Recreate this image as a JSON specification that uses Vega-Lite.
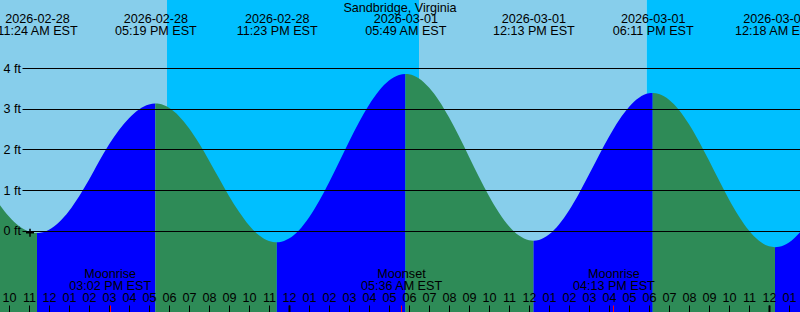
{
  "$schema": "https://vega.github.io/schema/vega-lite/v6.json",
  "width": 800,
  "height": 312,
  "padding": 0,
  "autosize": {"type": "none"},
  "background": "white",
  "config": {
    "view": {"stroke": null},
    "axis": {
      "labelFont": "Liberation Sans",
      "labelFontSize": 12.6,
      "labelColor": "black",
      "tickColor": "black",
      "domain": false,
      "grid": false,
      "labelFlush": false,
      "labelOverlap": false
    }
  },
  "title": {
    "text": "Sandbridge, Virginia",
    "offset": -12,
    "dy": 13,
    "baseline": "alphabetic",
    "font": "Liberation Sans",
    "fontSize": 12.6,
    "fontWeight": "normal",
    "color": "black",
    "anchor": "middle"
  },
  "datasets": {
    "sky": [
      {"start": "2026-02-28T09:33:00Z", "end": "2026-02-28T17:54:00Z", "kind": "day"},
      {"start": "2026-02-28T17:54:00Z", "end": "2026-03-01T06:30:00Z", "kind": "night"},
      {"start": "2026-03-01T06:30:00Z", "end": "2026-03-01T17:53:00Z", "kind": "day"},
      {"start": "2026-03-01T17:53:00Z", "end": "2026-03-02T01:33:00Z", "kind": "night"}
    ],
    "tide": [
      {"time": "2026-02-28T09:33:00Z", "ft": 0.627, "kind": "falling", "seg": 0},
      {"time": "2026-02-28T10:00:00Z", "ft": 0.346, "kind": "falling", "seg": 0},
      {"time": "2026-02-28T10:30:00Z", "ft": 0.111, "kind": "falling", "seg": 0},
      {"time": "2026-02-28T11:00:00Z", "ft": -0.026, "kind": "falling", "seg": 0},
      {"time": "2026-02-28T11:24:00Z", "ft": -0.06, "kind": "falling", "seg": 0},
      {"time": "2026-02-28T11:24:00Z", "ft": -0.06, "kind": "rising", "seg": 1},
      {"time": "2026-02-28T11:30:00Z", "ft": -0.058, "kind": "rising", "seg": 1},
      {"time": "2026-02-28T12:00:00Z", "ft": 0.02, "kind": "rising", "seg": 1},
      {"time": "2026-02-28T12:30:00Z", "ft": 0.204, "kind": "rising", "seg": 1},
      {"time": "2026-02-28T13:00:00Z", "ft": 0.482, "kind": "rising", "seg": 1},
      {"time": "2026-02-28T13:30:00Z", "ft": 0.84, "kind": "rising", "seg": 1},
      {"time": "2026-02-28T14:00:00Z", "ft": 1.25, "kind": "rising", "seg": 1},
      {"time": "2026-02-28T14:30:00Z", "ft": 1.7, "kind": "rising", "seg": 1},
      {"time": "2026-02-28T15:00:00Z", "ft": 2.12, "kind": "rising", "seg": 1},
      {"time": "2026-02-28T15:30:00Z", "ft": 2.48, "kind": "rising", "seg": 1},
      {"time": "2026-02-28T16:00:00Z", "ft": 2.77, "kind": "rising", "seg": 1},
      {"time": "2026-02-28T16:30:00Z", "ft": 2.985, "kind": "rising", "seg": 1},
      {"time": "2026-02-28T17:00:00Z", "ft": 3.107, "kind": "rising", "seg": 1},
      {"time": "2026-02-28T17:19:00Z", "ft": 3.13, "kind": "rising", "seg": 1},
      {"time": "2026-02-28T17:19:00Z", "ft": 3.13, "kind": "falling", "seg": 2},
      {"time": "2026-02-28T17:30:00Z", "ft": 3.122, "kind": "falling", "seg": 2},
      {"time": "2026-02-28T18:00:00Z", "ft": 3.024, "kind": "falling", "seg": 2},
      {"time": "2026-02-28T18:30:00Z", "ft": 2.819, "kind": "falling", "seg": 2},
      {"time": "2026-02-28T19:00:00Z", "ft": 2.521, "kind": "falling", "seg": 2},
      {"time": "2026-02-28T19:30:00Z", "ft": 2.149, "kind": "falling", "seg": 2},
      {"time": "2026-02-28T20:00:00Z", "ft": 1.728, "kind": "falling", "seg": 2},
      {"time": "2026-02-28T20:30:00Z", "ft": 1.287, "kind": "falling", "seg": 2},
      {"time": "2026-02-28T21:00:00Z", "ft": 0.855, "kind": "falling", "seg": 2},
      {"time": "2026-02-28T21:30:00Z", "ft": 0.462, "kind": "falling", "seg": 2},
      {"time": "2026-02-28T22:00:00Z", "ft": 0.131, "kind": "falling", "seg": 2},
      {"time": "2026-02-28T22:30:00Z", "ft": -0.114, "kind": "falling", "seg": 2},
      {"time": "2026-02-28T23:00:00Z", "ft": -0.257, "kind": "falling", "seg": 2},
      {"time": "2026-02-28T23:23:00Z", "ft": -0.29, "kind": "falling", "seg": 2},
      {"time": "2026-02-28T23:23:00Z", "ft": -0.29, "kind": "rising", "seg": 3},
      {"time": "2026-02-28T23:30:00Z", "ft": -0.287, "kind": "rising", "seg": 3},
      {"time": "2026-03-01T00:00:00Z", "ft": -0.197, "kind": "rising", "seg": 3},
      {"time": "2026-03-01T00:30:00Z", "ft": 0.011, "kind": "rising", "seg": 3},
      {"time": "2026-03-01T01:00:00Z", "ft": 0.324, "kind": "rising", "seg": 3},
      {"time": "2026-03-01T01:30:00Z", "ft": 0.722, "kind": "rising", "seg": 3},
      {"time": "2026-03-01T02:00:00Z", "ft": 1.185, "kind": "rising", "seg": 3},
      {"time": "2026-03-01T02:30:00Z", "ft": 1.684, "kind": "rising", "seg": 3},
      {"time": "2026-03-01T03:00:00Z", "ft": 2.188, "kind": "rising", "seg": 3},
      {"time": "2026-03-01T03:30:00Z", "ft": 2.669, "kind": "rising", "seg": 3},
      {"time": "2026-03-01T04:00:00Z", "ft": 3.094, "kind": "rising", "seg": 3},
      {"time": "2026-03-01T04:30:00Z", "ft": 3.444, "kind": "rising", "seg": 3},
      {"time": "2026-03-01T05:00:00Z", "ft": 3.696, "kind": "rising", "seg": 3},
      {"time": "2026-03-01T05:30:00Z", "ft": 3.835, "kind": "rising", "seg": 3},
      {"time": "2026-03-01T05:49:00Z", "ft": 3.86, "kind": "rising", "seg": 3},
      {"time": "2026-03-01T05:49:00Z", "ft": 3.86, "kind": "falling", "seg": 4},
      {"time": "2026-03-01T06:00:00Z", "ft": 3.852, "kind": "falling", "seg": 4},
      {"time": "2026-03-01T06:30:00Z", "ft": 3.746, "kind": "falling", "seg": 4},
      {"time": "2026-03-01T07:00:00Z", "ft": 3.523, "kind": "falling", "seg": 4},
      {"time": "2026-03-01T07:30:00Z", "ft": 3.198, "kind": "falling", "seg": 4},
      {"time": "2026-03-01T08:00:00Z", "ft": 2.789, "kind": "falling", "seg": 4},
      {"time": "2026-03-01T08:30:00Z", "ft": 2.321, "kind": "falling", "seg": 4},
      {"time": "2026-03-01T09:00:00Z", "ft": 1.822, "kind": "falling", "seg": 4},
      {"time": "2026-03-01T09:30:00Z", "ft": 1.322, "kind": "falling", "seg": 4},
      {"time": "2026-03-01T10:00:00Z", "ft": 0.851, "kind": "falling", "seg": 4},
      {"time": "2026-03-01T10:30:00Z", "ft": 0.44, "kind": "falling", "seg": 4},
      {"time": "2026-03-01T11:00:00Z", "ft": 0.107, "kind": "falling", "seg": 4},
      {"time": "2026-03-01T11:30:00Z", "ft": -0.123, "kind": "falling", "seg": 4},
      {"time": "2026-03-01T12:00:00Z", "ft": -0.238, "kind": "falling", "seg": 4},
      {"time": "2026-03-01T12:13:00Z", "ft": -0.25, "kind": "falling", "seg": 4},
      {"time": "2026-03-01T12:13:00Z", "ft": -0.25, "kind": "rising", "seg": 5},
      {"time": "2026-03-01T12:30:00Z", "ft": -0.23, "kind": "rising", "seg": 5},
      {"time": "2026-03-01T13:00:00Z", "ft": -0.098, "kind": "rising", "seg": 5},
      {"time": "2026-03-01T13:30:00Z", "ft": 0.15, "kind": "rising", "seg": 5},
      {"time": "2026-03-01T14:00:00Z", "ft": 0.495, "kind": "rising", "seg": 5},
      {"time": "2026-03-01T14:30:00Z", "ft": 0.915, "kind": "rising", "seg": 5},
      {"time": "2026-03-01T15:00:00Z", "ft": 1.379, "kind": "rising", "seg": 5},
      {"time": "2026-03-01T15:30:00Z", "ft": 1.857, "kind": "rising", "seg": 5},
      {"time": "2026-03-01T16:00:00Z", "ft": 2.314, "kind": "rising", "seg": 5},
      {"time": "2026-03-01T16:30:00Z", "ft": 2.72, "kind": "rising", "seg": 5},
      {"time": "2026-03-01T17:00:00Z", "ft": 3.046, "kind": "rising", "seg": 5},
      {"time": "2026-03-01T17:30:00Z", "ft": 3.273, "kind": "rising", "seg": 5},
      {"time": "2026-03-01T18:00:00Z", "ft": 3.382, "kind": "rising", "seg": 5},
      {"time": "2026-03-01T18:11:00Z", "ft": 3.39, "kind": "rising", "seg": 5},
      {"time": "2026-03-01T18:11:00Z", "ft": 3.39, "kind": "falling", "seg": 6},
      {"time": "2026-03-01T18:30:00Z", "ft": 3.365, "kind": "falling", "seg": 6},
      {"time": "2026-03-01T19:00:00Z", "ft": 3.225, "kind": "falling", "seg": 6},
      {"time": "2026-03-01T19:30:00Z", "ft": 2.972, "kind": "falling", "seg": 6},
      {"time": "2026-03-01T20:00:00Z", "ft": 2.621, "kind": "falling", "seg": 6},
      {"time": "2026-03-01T20:30:00Z", "ft": 2.196, "kind": "falling", "seg": 6},
      {"time": "2026-03-01T21:00:00Z", "ft": 1.725, "kind": "falling", "seg": 6},
      {"time": "2026-03-01T21:30:00Z", "ft": 1.238, "kind": "falling", "seg": 6},
      {"time": "2026-03-01T22:00:00Z", "ft": 0.768, "kind": "falling", "seg": 6},
      {"time": "2026-03-01T22:30:00Z", "ft": 0.348, "kind": "falling", "seg": 6},
      {"time": "2026-03-01T23:00:00Z", "ft": 0.0, "kind": "falling", "seg": 6},
      {"time": "2026-03-01T23:30:00Z", "ft": -0.251, "kind": "falling", "seg": 6},
      {"time": "2026-03-02T00:00:00Z", "ft": -0.388, "kind": "falling", "seg": 6},
      {"time": "2026-03-02T00:18:00Z", "ft": -0.41, "kind": "falling", "seg": 6},
      {"time": "2026-03-02T00:18:00Z", "ft": -0.41, "kind": "rising", "seg": 7},
      {"time": "2026-03-02T00:30:00Z", "ft": -0.4, "kind": "rising", "seg": 7},
      {"time": "2026-03-02T01:00:00Z", "ft": -0.291, "kind": "rising", "seg": 7},
      {"time": "2026-03-02T01:33:00Z", "ft": -0.039, "kind": "rising", "seg": 7}
    ],
    "now": [
      {"time": "2026-02-28T11:03:00Z", "ft": -0.05}
    ]
  },
  "layer": [
    {
      "data": {"name": "sky"},
      "mark": {"type": "rect"},
      "encoding": {
        "x": {
          "field": "start",
          "type": "temporal",
          "scale": {"type": "utc", "nice": false, "domain": [1772271180000, 1772415180000]},
          "axis": {
            "orient": "top",
            "offset": -312,
            "values": [1772272800000, 1772276400000, 1772280000000, 1772283600000, 1772287200000, 1772290800000, 1772294400000, 1772298000000, 1772301600000, 1772305200000, 1772308800000, 1772312400000, 1772316000000, 1772319600000, 1772323200000, 1772326800000, 1772330400000, 1772334000000, 1772337600000, 1772341200000, 1772344800000, 1772348400000, 1772352000000, 1772355600000, 1772359200000, 1772362800000, 1772366400000, 1772370000000, 1772373600000, 1772377200000, 1772380800000, 1772384400000, 1772388000000, 1772391600000, 1772395200000, 1772398800000, 1772402400000, 1772406000000, 1772409600000, 1772413200000],
            "tickSize": 7,
            "labelPadding": 1,
            "labelExpr": "utcFormat(datum.value, '%I')",
            "title": null,
            "zindex": 1
          }
        },
        "x2": {"field": "end"},
        "color": {
          "field": "kind",
          "type": "nominal",
          "scale": {"domain": ["day", "night"], "range": ["#87ceeb", "#00bfff"]},
          "legend": null
        }
      }
    },
    {
      "data": {"name": "tide"},
      "transform": [{"filter": "datum.kind === 'rising'"}],
      "mark": {"type": "area", "interpolate": "monotone", "color": "#0000ff"},
      "encoding": {
        "x": {
          "field": "time",
          "type": "temporal",
          "axis": {
            "orient": "top",
            "offset": -25.8,
            "values": [1772277840000, 1772299140000, 1772320980000, 1772344140000, 1772367180000, 1772388660000, 1772410680000],
            "ticks": false,
            "labelPadding": 0,
            "labelLineHeight": 12,
            "labelExpr": "[utcFormat(datum.value, '%Y-%m-%d'), utcFormat(datum.value, '%I:%M %p EST')]",
            "title": null,
            "zindex": 1
          }
        },
        "y": {
          "field": "ft",
          "type": "quantitative",
          "stack": null,
          "scale": {"domain": [-2.005, 5.68], "nice": false, "zero": false},
          "axis": {
            "orient": "left",
            "offset": -800,
            "values": [0, 1, 2, 3, 4],
            "tickSize": 778,
            "labelPadding": 1.5,
            "labelExpr": "datum.value + ' ft'",
            "title": null,
            "zindex": 1
          }
        },
        "y2": {"datum": -2.005},
        "detail": {"field": "seg", "type": "nominal"}
      }
    },
    {
      "data": {"name": "tide"},
      "transform": [{"filter": "datum.kind === 'falling'"}],
      "mark": {"type": "area", "interpolate": "monotone", "color": "#2e8b57"},
      "encoding": {
        "x": {
          "field": "time",
          "type": "temporal",
          "axis": {
            "orient": "top",
            "offset": -312,
            "values": [1772323200000, 1772409600000],
            "tickSize": 7,
            "tickWidth": 2,
            "labels": false,
            "title": null,
            "zindex": 1
          }
        },
        "y": {"field": "ft", "type": "quantitative", "stack": null, "axis": null},
        "y2": {"datum": -2.005},
        "detail": {"field": "seg", "type": "nominal"}
      }
    },
    {
      "data": {"name": "now"},
      "mark": {"type": "point", "shape": "M-1,0L1,0M0,-1L0,1", "filled": false, "stroke": "black", "strokeWidth": 1.5, "size": 64, "opacity": 1},
      "encoding": {
        "x": {
          "field": "time",
          "type": "temporal",
          "axis": {
            "orient": "top",
            "offset": -312,
            "values": [1772290920000, 1772343360000, 1772381580000],
            "tickSize": 7,
            "tickColor": "red",
            "labelPadding": 25,
            "labelLineHeight": 12,
            "labelExpr": "[utchours(datum.value) < 12 ? 'Moonset' : 'Moonrise', utcFormat(datum.value, '%I:%M %p EST')]",
            "title": null,
            "zindex": 1
          }
        },
        "y": {"field": "ft", "type": "quantitative", "axis": null}
      }
    }
  ],
  "resolve": {"axis": {"x": "independent", "y": "independent"}}
}
